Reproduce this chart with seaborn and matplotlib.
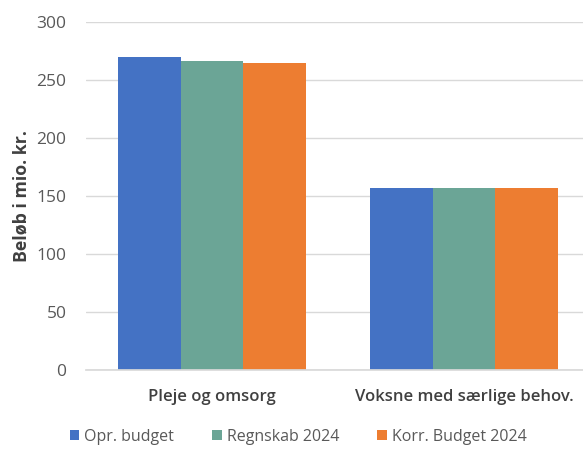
import matplotlib
matplotlib.use("Agg")
import matplotlib.pyplot as plt
import seaborn as sns
import pandas as pd

categories = ["Pleje og omsorg", "Voksne med særlige behov."]
series_names = ["Opr. budget", "Regnskab 2024", "Korr. Budget 2024"]
opr_budget = [269.5, 157.0]
regnskab_2024 = [266.0, 157.0]
korr_budget_2024 = [264.5, 157.0]
yticks = [0, 50, 100, 150, 200, 250, 300]

colors = ["#4472C4", "#6BA596", "#ED7D31"]

rows = []
for name, vals in zip(series_names, [opr_budget, regnskab_2024, korr_budget_2024]):
    for c, v in zip(categories, vals):
        rows.append({"Kategori": c, "Serie": name, "Beløb": v})
df = pd.DataFrame(rows)

sns.set_theme(style="white")
plt.rcParams["font.family"] = ["Open Sans", "DejaVu Sans"]

fig = plt.figure(figsize=(5.83, 4.5), dpi=100)
ax = fig.add_axes([86 / 583, 1 - 370 / 450, 504 / 583, 348 / 450])

sns.barplot(data=df, x="Kategori", y="Beløb", hue="Serie", palette=colors,
            width=0.746, gap=0, saturation=1, ax=ax, edgecolor="none")

ax.set_ylim(0, 300)
ax.set_xlim(-0.5, 1.5)
ax.set_yticks(yticks)
ax.set_yticklabels([str(t) for t in yticks], color="#595959", fontsize=12.5)
ax.yaxis.grid(True, color="#D9D9D9", linewidth=1)
ax.set_axisbelow(True)
for s in ["top", "right", "left"]:
    ax.spines[s].set_visible(False)
ax.spines["bottom"].set_color("#D9D9D9")
ax.tick_params(axis="both", length=0)
ax.tick_params(axis="y", pad=14)
ax.tick_params(axis="x", pad=14)
for lbl in ax.get_xticklabels():
    lbl.set_fontweight("semibold")
    lbl.set_color("#404040")
    lbl.set_fontsize(12)
ax.set_xlabel("")
ax.set_ylabel("Beløb i mio. kr.", fontsize=12.8, fontweight="bold", color="#404040")
ax.yaxis.set_label_coords((30 - 86) / 504, (370 - 196) / 348)

leg = ax.legend(loc="center", bbox_to_anchor=(298 / 583, 1 - 437 / 450),
                bbox_transform=fig.transFigure, ncol=3, frameon=False,
                fontsize=11.5, handlelength=0.6, handleheight=0.6,
                handletextpad=0.3, columnspacing=2.4)
for t in leg.get_texts():
    t.set_color("#595959")

fig.savefig("out.png", dpi=100)
